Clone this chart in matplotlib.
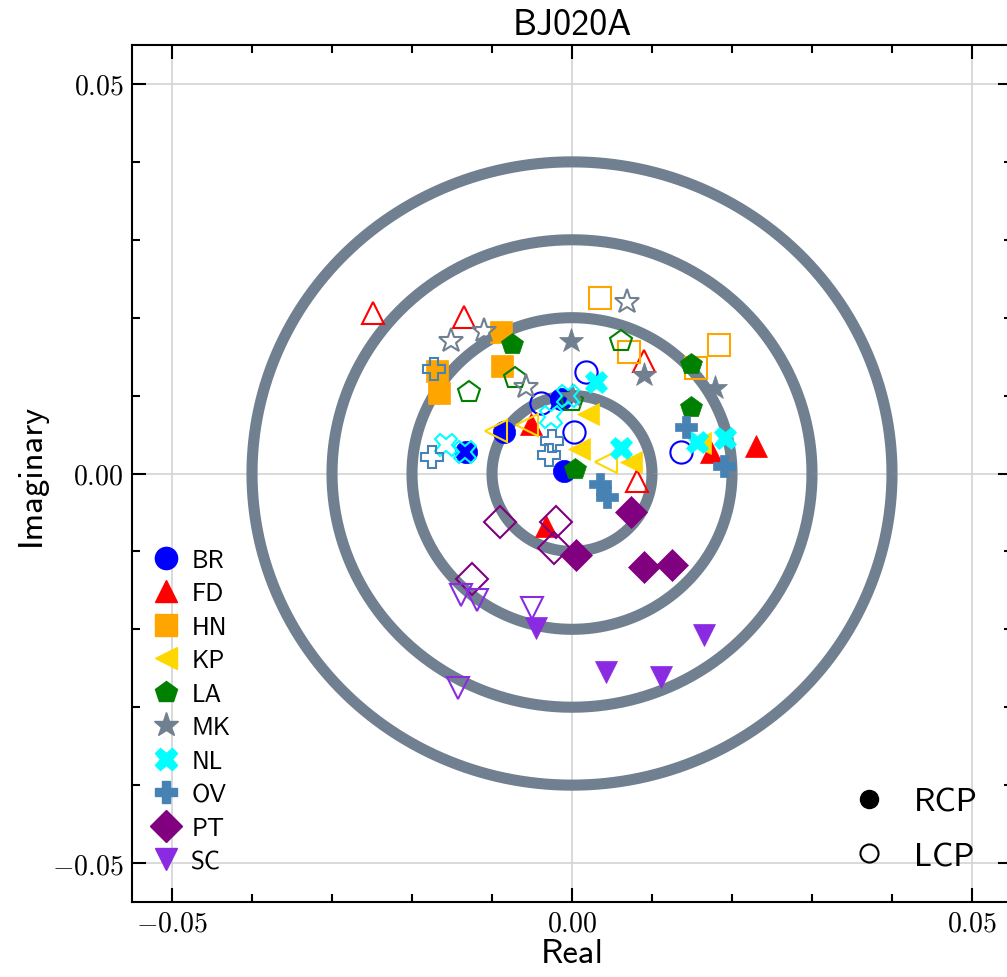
import numpy as np
import matplotlib
matplotlib.use("Agg")
import matplotlib.pyplot as plt
from matplotlib.lines import Line2D
from matplotlib.ticker import MultipleLocator, FixedLocator, FuncFormatter

plt.rcParams["font.family"] = ["cmss10", "DejaVu Sans"]
plt.rcParams["mathtext.fontset"] = "cm"
plt.rcParams["axes.unicode_minus"] = False

# Station order, marker style and colour
stations = ["BR", "FD", "HN", "KP", "LA", "MK", "NL", "OV", "PT", "SC"]
markers = ["o", "^", "s", "<", "p", "*", "X", "P", "D", "v"]
colors = ["blue", "red", "orange", "gold", "green", "slategray",
          "cyan", "steelblue", "purple", "blueviolet"]

# Complex gains (real, imaginary) per station, right-hand polarisation
rcp_real = {
    "BR": [-0.0085, -0.0133, -0.0014, -0.0010],
    "FD": [-0.0051, -0.0033, 0.0174, 0.0230],
    "HN": [-0.0089, -0.0087, -0.0169, -0.0166],
    "KP": [0.0020, 0.0009, 0.0074, 0.0160],
    "LA": [-0.0075, 0.0004, 0.0149, 0.0149],
    "MK": [-0.0001, 0.0090, 0.0179, 0.0000],
    "NL": [0.0030, 0.0061, 0.0156, 0.0191],
    "OV": [0.0035, 0.0044, 0.0143, 0.0190],
    "PT": [0.0074, 0.0005, 0.0090, 0.0125],
    "SC": [-0.0045, 0.0043, 0.0111, 0.0165],
}
rcp_imag = {
    "BR": [0.0053, 0.0028, 0.0095, 0.0003],
    "FD": [0.0063, -0.0068, 0.0027, 0.0035],
    "HN": [0.0181, 0.0138, 0.0131, 0.0103],
    "KP": [0.0077, 0.0031, 0.0015, 0.0039],
    "LA": [0.0166, 0.0006, 0.0140, 0.0085],
    "MK": [0.0170, 0.0126, 0.0110, 0.0100],
    "NL": [0.0118, 0.0033, 0.0041, 0.0046],
    "OV": [-0.0014, -0.0030, 0.0060, 0.0009],
    "PT": [-0.0049, -0.0104, -0.0120, -0.0117],
    "SC": [-0.0198, -0.0255, -0.0261, -0.0207],
}
# Left-hand polarisation
lcp_real = {
    "BR": [-0.0039, 0.0003, 0.0018, 0.0136],
    "FD": [-0.0249, -0.0135, 0.0090, 0.0081],
    "HN": [0.0035, 0.0071, 0.0155, 0.0184],
    "KP": [-0.0095, -0.0056, 0.0043],
    "LA": [-0.0129, -0.0071, 0.0061, 0.0000],
    "MK": [-0.0151, -0.0110, 0.0069, -0.0058],
    "NL": [-0.0158, -0.0134, -0.0026, -0.0005],
    "OV": [-0.0173, -0.0175, -0.0025, -0.0029],
    "PT": [-0.0090, -0.0020, -0.0023, -0.0125],
    "SC": [-0.0139, -0.0119, -0.0050, -0.0143],
}
lcp_imag = {
    "BR": [0.0090, 0.0053, 0.0130, 0.0027],
    "FD": [0.0206, 0.0201, 0.0144, -0.0010],
    "HN": [0.0225, 0.0156, 0.0135, 0.0165],
    "KP": [0.0054, 0.0062, 0.0015],
    "LA": [0.0105, 0.0123, 0.0170, 0.0093],
    "MK": [0.0170, 0.0183, 0.0220, 0.0111],
    "NL": [0.0036, 0.0028, 0.0073, 0.0099],
    "OV": [0.0134, 0.0021, 0.0042, 0.0024],
    "PT": [-0.0062, -0.0062, -0.0095, -0.0136],
    "SC": [-0.0156, -0.0162, -0.0172, -0.0275],
}

# Reference rings of constant amplitude
ring_radii = [0.01, 0.02, 0.03, 0.04]

fig = plt.figure(figsize=(10.07, 9.78), dpi=100)
ax = fig.add_axes([132 / 1007, 75 / 978, 880 / 1007, 857 / 978])

theta = np.linspace(0, 2 * np.pi, 721)
for r in ring_radii:
    ax.plot(r * np.cos(theta), r * np.sin(theta), color="slategray",
            lw=8.0, zorder=2, solid_capstyle="butt")

ms = 16
for st, mk, c in zip(stations, markers, colors):
    size = ms * 1.15 if mk == "*" else ms
    ax.plot(rcp_real[st], rcp_imag[st], ls="none", marker=mk, ms=size,
            color=c, mec=c, mfc=c, mew=0.5, zorder=3)
    ax.plot(lcp_real[st], lcp_imag[st], ls="none", marker=mk, ms=size,
            mec=c, mfc="none", mew=1.5, zorder=3)

ax.set_xlim(-0.055, 0.055)
ax.set_ylim(-0.055, 0.055)

major = [-0.05, 0.0, 0.05]
for axis in (ax.xaxis, ax.yaxis):
    axis.set_major_locator(FixedLocator(major))
    axis.set_minor_locator(MultipleLocator(0.01))
    axis.set_major_formatter(FuncFormatter(lambda v, p: r"$%.2f$" % v))
ax.tick_params(which="both", direction="in", top=True, right=True,
               labelsize=20, width=1.5)
ax.tick_params(which="major", length=10, pad=6)
ax.tick_params(which="minor", length=6)
for sp in ax.spines.values():
    sp.set_linewidth(1.5)
ax.grid(True, which="major", color="lightgray", lw=1.2, zorder=0)
ax.set_axisbelow(True)

ax.set_title("BJ020A", fontsize=26, pad=8)
ax.set_xlabel("Real", fontsize=25, labelpad=2)
ax.set_ylabel("Imaginary", fontsize=25, labelpad=4)

station_handles = [
    Line2D([], [], ls="none", marker=mk, ms=(ms * 1.15 if mk == "*" else ms),
           color=c, mec=c, mfc=c, label=st)
    for st, mk, c in zip(stations, markers, colors)
]
leg1 = ax.legend(handles=station_handles, loc="lower left", frameon=False,
                 fontsize=18, handletextpad=0.3, labelspacing=0.42,
                 borderaxespad=0.1, handlelength=1.4,
                 bbox_to_anchor=(0.005, 0.019))
ax.add_artist(leg1)

pol_handles = [
    Line2D([], [], ls="none", marker="o", ms=13, color="black", label="RCP"),
    Line2D([], [], ls="none", marker="o", ms=13, mfc="none", mec="black",
           mew=1.5, label="LCP"),
]
ax.legend(handles=pol_handles, loc="lower right", frameon=False,
          fontsize=24, handletextpad=0.35, labelspacing=0.75,
          bbox_to_anchor=(0.995, 0.001))

fig.savefig("out.png", dpi=100)
